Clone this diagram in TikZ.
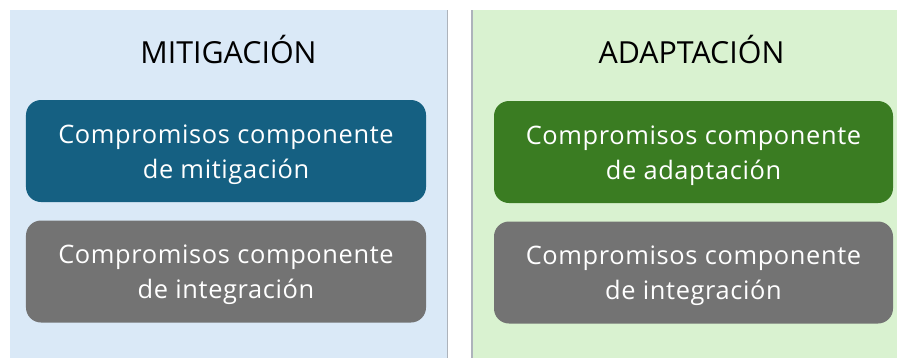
\documentclass[tikz,border=0pt]{standalone}
\usepackage{fontspec}
\setmainfont{Open Sans}
\newfontfamily\cardfont[LetterSpace=2.5]{Open Sans}
\definecolor{panelblue}{HTML}{DAE9F7}
\definecolor{panelgreen}{HTML}{D9F2D0}
\definecolor{boxblue}{HTML}{156082}
\definecolor{boxgreen}{HTML}{3A7C22}
\definecolor{boxgray}{HTML}{737373}
\definecolor{edgegray}{HTML}{ADB3BB}
\begin{document}
\begin{tikzpicture}[x=1bp,y=-1bp,
  card/.style={rounded corners=15bp, minimum width=400bp, minimum height=102bp, inner sep=0pt},
  cardtext/.style={text=white, align=center, inner sep=0pt, yshift=-3.5bp,
    font=\cardfont\fontsize{25.5}{35}\selectfont},
  title/.style={font=\fontsize{30.5}{34}\selectfont, text=black, inner sep=0pt, anchor=base}]
\useasboundingbox (0,0) rectangle (897,358);
\fill[panelblue] (10,10) rectangle (447.5,358);
\fill[panelgreen] (472,10) rectangle (897,358);
\draw[edgegray, line width=1.2bp] (447.5,10) -- (447.5,358);
\draw[edgegray, line width=1.2bp] (472,10) -- (472,358);
\node[title] (t1) at (228.5,63) {MITIGACIÓN};
\node[title] (t2) at (691.5,63) {ADAPTACIÓN};
\node[card, fill=boxblue] (b1) at (226,151) {};
\node[card, fill=boxgray] (g1) at (226,271.5) {};
\node[card, fill=boxgreen, minimum width=399bp] (b2) at (693.5,152) {};
\node[card, fill=boxgray, minimum width=399bp] (g2) at (693.5,272.5) {};
\node[cardtext] (b1t) at (b1.center) {Compromisos componente\\de mitigación};
\node[cardtext] (g1t) at (g1.center) {Compromisos componente\\de integración};
\node[cardtext] (b2t) at (b2.center) {Compromisos componente\\de adaptación};
\node[cardtext] (g2t) at (g2.center) {Compromisos componente\\de integración};
\end{tikzpicture}
\end{document}
